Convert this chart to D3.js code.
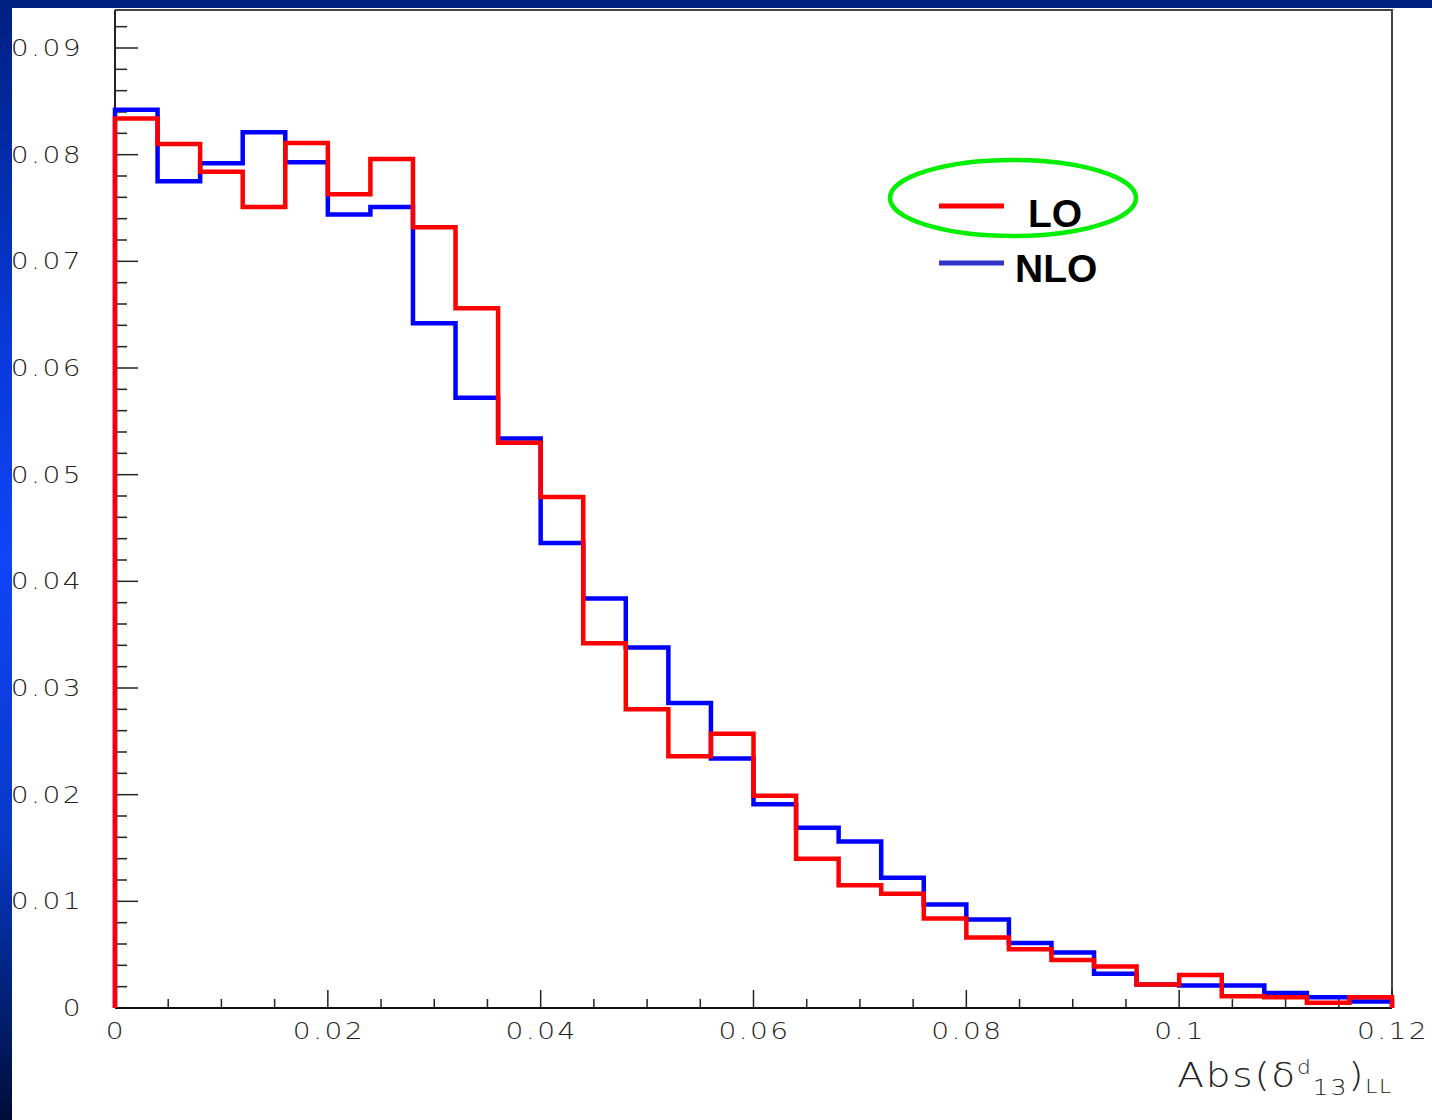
<!DOCTYPE html>
<meta charset="utf-8">
<style>
body { margin: 0; background: #fff; }
.tick-label { font-family: "DejaVu Sans", sans-serif; font-weight: 200; font-size: 23px; letter-spacing: 2px; fill: #222; }
.legend-text { font-family: "Liberation Sans", Arial, sans-serif; font-weight: bold; font-size: 39px; fill: #000; }
</style>
<svg width="1432" height="1120"></svg>
<script src="https://d3js.org/d3.v7.min.js"></script>
<script>

// bin edges: 30 bins of width 0.004 from 0 to 0.12
var binWidth = 0.004;
var nBins = 30;

// LO histogram (red)
var loValues = [0.0834, 0.0810, 0.0784, 0.0751, 0.0811, 0.0763, 0.0796, 0.0732, 0.0656, 0.0530,
                0.0479, 0.0342, 0.0280, 0.0236, 0.0257, 0.0199, 0.0140, 0.0115, 0.0107, 0.0084,
                0.0066, 0.0055, 0.0045, 0.0039, 0.0022, 0.0031, 0.0011, 0.0010, 0.0005, 0.0010];

// NLO histogram (blue)
var nloValues = [0.0842, 0.0775, 0.0792, 0.0821, 0.0793, 0.0744, 0.0751, 0.0642, 0.0572, 0.0534,
                 0.0436, 0.0384, 0.0338, 0.0286, 0.0234, 0.0191, 0.0169, 0.0156, 0.0122, 0.0097,
                 0.0083, 0.0061, 0.0052, 0.0032, 0.0022, 0.0021, 0.0021, 0.0014, 0.0010, 0.0006];

var xTickLabels = ["0", "0.02", "0.04", "0.06", "0.08", "0.1", "0.12"];
var yTickLabels = ["0", "0.01", "0.02", "0.03", "0.04", "0.05", "0.06", "0.07", "0.08", "0.09"];

var svg = d3.select("svg");

var x = d3.scaleLinear().domain([0, 0.12]).range([115, 1392]);
var y = d3.scaleLinear().domain([0, 0.09]).range([1008, 48]);
var yTop = y.invert(10);
var stretch = 1.22; // ROOT's wide thin font

// background decoration (slide frame)
var grad = svg.append("defs").append("linearGradient")
    .attr("id", "side").attr("x1", 0).attr("y1", 0).attr("x2", 0).attr("y2", 1);
[[0, "#002080"], [0.3, "#0838d8"], [0.5, "#1044f8"], [0.75, "#0838c8"], [0.9, "#002070"], [1, "#000c38"]]
  .forEach(function(s) { grad.append("stop").attr("offset", s[0]).attr("stop-color", s[1]); });

// tick labels first (side strip covers their left part)
var yLab = svg.append("g");
yTickLabels.forEach(function(t) {
  yLab.append("text").attr("class", "tick-label")
      .attr("transform", "translate(83," + (y(+t) + 8) + ") scale(" + stretch + ",1)")
      .attr("text-anchor", "end")
      .text(t);
});

var xLab = svg.append("g");
xTickLabels.forEach(function(t) {
  xLab.append("text").attr("class", "tick-label")
      .attr("transform", "translate(" + (x(+t) + 1) + ",1039) scale(" + stretch + ",1)")
      .attr("text-anchor", "middle")
      .text(t);
});

svg.append("rect").attr("x", 0).attr("y", 0).attr("width", 1432).attr("height", 8).attr("fill", "#002080");
svg.append("rect").attr("x", 0).attr("y", 0).attr("width", 12).attr("height", 1120).attr("fill", "url(#side)");

// frame
svg.append("path")
    .attr("d", "M" + x(0) + "," + y(yTop) + "H" + x(0.12) + "V" + y(0))
    .attr("fill", "none").attr("stroke", "#444").attr("stroke-width", 2);

// y axis ticks (inward)
var yTicks = d3.range(0, 47).map(function(i) { return i * 0.002; });
svg.append("g").selectAll("line").data(yTicks).enter().append("line")
    .attr("x1", x(0)).attr("x2", function(d, i) { return x(0) + (i % 5 === 0 ? 23 : 12); })
    .attr("y1", function(d) { return y(d); }).attr("y2", function(d) { return y(d); })
    .attr("stroke", "#222").attr("stroke-width", 1.5);
svg.append("line").attr("x1", x(0)).attr("x2", x(0)).attr("y1", y(yTop)).attr("y2", y(0))
    .attr("stroke", "#222").attr("stroke-width", 2);

// x axis ticks (inward)
var xTicks = d3.range(0, 25).map(function(i) { return i * 0.005; });
svg.append("g").selectAll("line").data(xTicks).enter().append("line")
    .attr("x1", function(d) { return x(d); }).attr("x2", function(d) { return x(d); })
    .attr("y1", y(0)).attr("y2", function(d, i) { return y(0) - (i % 4 === 0 ? 18 : 9); })
    .attr("stroke", "#222").attr("stroke-width", 1.5);
svg.append("line").attr("x1", x(0)).attr("x2", x(0.12)).attr("y1", y(0)).attr("y2", y(0))
    .attr("stroke", "#111").attr("stroke-width", 2);

// histograms
function stepPoints(vals) {
  var pts = [[0, 0]];
  vals.forEach(function(v, i) {
    pts.push([i * binWidth, v]);
    pts.push([(i + 1) * binWidth, v]);
  });
  pts.push([nBins * binWidth, 0]);
  return pts;
}
var line = d3.line().x(function(d) { return x(d[0]); }).y(function(d) { return y(d[1]); });

svg.append("path").attr("d", line(stepPoints(nloValues)))
    .attr("fill", "none").attr("stroke", "#0000ff").attr("stroke-width", 4.5);
svg.append("path").attr("d", line(stepPoints(loValues)))
    .attr("fill", "none").attr("stroke", "#ff0000").attr("stroke-width", 4.5);

// axis title
var title = svg.append("text").attr("class", "tick-label")
    .attr("transform", "translate(1393,1087) scale(1.15,1)").attr("text-anchor", "end")
    .style("font-size", "34px").style("letter-spacing", "1.5px");
title.append("tspan").text("Abs(\u03B4");
title.append("tspan").attr("dy", -13).style("font-size", "19px").text("d");
title.append("tspan").attr("dy", 21).style("font-size", "22px").text("13");
title.append("tspan").attr("dy", -8).text(")");
title.append("tspan").attr("dy", 6).style("font-size", "19px").text("LL");

// legend
svg.append("ellipse").attr("cx", 1013).attr("cy", 198).attr("rx", 123).attr("ry", 38)
    .attr("fill", "none").attr("stroke", "#00ee00").attr("stroke-width", 4.5);
svg.append("line").attr("x1", 939).attr("x2", 1004).attr("y1", 206).attr("y2", 206)
    .attr("stroke", "#ff0000").attr("stroke-width", 5);
svg.append("text").attr("class", "legend-text").attr("x", 1028).attr("y", 227).text("LO");
svg.append("line").attr("x1", 939).attr("x2", 1004).attr("y1", 263).attr("y2", 263)
    .attr("stroke", "#3333cc").attr("stroke-width", 5);
svg.append("text").attr("class", "legend-text").attr("x", 1015).attr("y", 282).text("NLO");

</script>
